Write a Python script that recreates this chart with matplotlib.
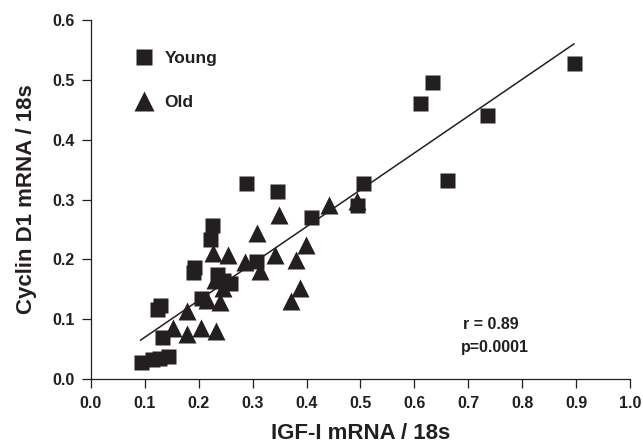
import matplotlib
matplotlib.use("Agg")
import matplotlib.pyplot as plt
from matplotlib.lines import Line2D

plt.rcParams['font.family'] = ['Liberation Sans', 'DejaVu Sans']
plt.rcParams['font.weight'] = 'bold'

# Young (squares)
young_x = [0.092, 0.113, 0.127, 0.142, 0.132, 0.122, 0.128, 0.190, 0.192, 0.205,
           0.221, 0.225, 0.233, 0.245, 0.258, 0.288, 0.345, 0.307, 0.408, 0.494,
           0.504, 0.611, 0.633, 0.661, 0.734, 0.896]
young_y = [0.028, 0.033, 0.035, 0.038, 0.070, 0.117, 0.124, 0.178, 0.188, 0.135,
           0.234, 0.258, 0.175, 0.165, 0.160, 0.328, 0.315, 0.197, 0.270, 0.291,
           0.328, 0.462, 0.497, 0.333, 0.441, 0.528]

# Old (triangles)
old_x = [0.153, 0.178, 0.178, 0.205, 0.232, 0.215, 0.239, 0.245, 0.230, 0.227,
         0.255, 0.285, 0.313, 0.308, 0.341, 0.349, 0.380, 0.398, 0.371, 0.388,
         0.441, 0.494]
old_y = [0.085, 0.113, 0.075, 0.085, 0.081, 0.132, 0.128, 0.152, 0.165, 0.210,
         0.207, 0.195, 0.180, 0.244, 0.207, 0.274, 0.199, 0.224, 0.130, 0.152,
         0.291, 0.297]

# Regression line
fit_x = [0.092, 0.896]
fit_y = [0.065, 0.560]

x_ticks = [0.0, 0.1, 0.2, 0.3, 0.4, 0.5, 0.6, 0.7, 0.8, 0.9, 1.0]
y_ticks = [0.0, 0.1, 0.2, 0.3, 0.4, 0.5, 0.6]

col = '#231f20'

fig = plt.figure(figsize=(6.43, 4.46), dpi=100)
ax = fig.add_axes([91/643, 1-379/446, 539/643, 359/446])

ax.plot(fit_x, fit_y, color=col, lw=1.1, zorder=1)
ax.plot(young_x, young_y, 's', color=col, ms=10.8, mec='none', zorder=3, label='Young')
ax.plot(old_x, old_y, '^', color=col, ms=12.5, mec='none', zorder=2, label='Old')

ax.set_xlim(0, 1.0)
ax.set_ylim(0, 0.6)
ax.set_xticks(x_ticks)
ax.set_yticks(y_ticks)
ax.set_xticklabels([f'{t:.1f}' for t in x_ticks])
ax.set_yticklabels([f'{t:.1f}' for t in y_ticks])
ax.tick_params(direction='out', length=6.5, width=0.9, labelsize=11.5, pad=5, colors=col)
ax.tick_params(axis='x', pad=6)
for s in ['top', 'right']:
    ax.spines[s].set_visible(False)
for s in ['left', 'bottom']:
    ax.spines[s].set_linewidth(0.9)
    ax.spines[s].set_color(col)

ax.set_xlabel('IGF-I mRNA / 18s', fontsize=16, fontweight='bold', color=col, labelpad=8.5)
ax.set_ylabel('Cyclin D1 mRNA / 18s', fontsize=16, fontweight='bold', color=col, labelpad=11)

leg_handles = [Line2D([], [], marker='s', ls='none', color=col, ms=11.5, mec='none'),
               Line2D([], [], marker='^', ls='none', color=col, ms=14, mec='none')]
leg = ax.legend(leg_handles, ['Young', 'Old'], loc='upper left',
                bbox_to_anchor=(0.062, 0.937), frameon=False, fontsize=12.5,
                labelspacing=1.62, handletextpad=0.6, borderpad=0, handlelength=1.2)
for t in leg.get_texts():
    t.set_color(col)
    t.set_fontweight('bold')

ax.text(0.69, 0.153, 'r = 0.89', transform=ax.transAxes, fontsize=11.5,
        fontweight='bold', color=col, va='center', ha='left')
ax.text(0.686, 0.088, 'p=0.0001', transform=ax.transAxes, fontsize=11.5,
        fontweight='bold', color=col, va='center', ha='left')

fig.savefig('out.png', dpi=100)
